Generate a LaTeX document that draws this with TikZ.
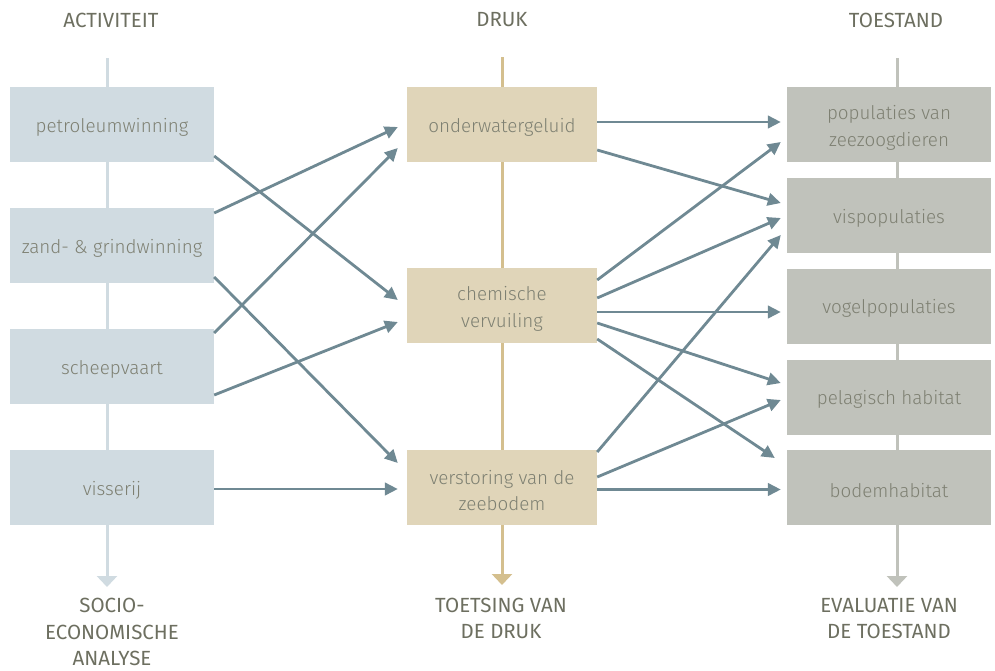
\documentclass[tikz,border=0pt]{standalone}
\usepackage{fontspec}
\setmainfont{Fira Sans Light}
\newfontfamily\headfont{Fira Sans}
\usetikzlibrary{arrows.meta}
\definecolor{actfill}{HTML}{D0DBE1}
\definecolor{drukfill}{HTML}{E0D5B9}
\definecolor{toefill}{HTML}{C0C2BB}
\definecolor{drukline}{HTML}{D4BF8E}
\definecolor{boxtext}{HTML}{7E8072}
\definecolor{headtext}{HTML}{6D6F60}
\definecolor{pijl}{HTML}{6F8993}

\begin{document}
\begin{tikzpicture}[x=1pt,y=-1pt,
    act_node/.style={fill=actfill,minimum width=204pt,minimum height=75pt,inner sep=0pt,align=center,text=boxtext,
        font=\fontsize{18.8}{26.5}\selectfont,text height=19.5pt},
    druk_node/.style={act_node,fill=drukfill,minimum width=190pt},
    toe_node/.style={act_node,fill=toefill,minimum width=204pt},
    two_lines/.style={text height=47pt},
    head_node/.style={text=headtext,align=center,font=\headfont\fontsize{20.5}{26.5}\selectfont},
    axis_line/.style={line width=3pt,-{Triangle[width=20pt,length=11pt]}}]

    \useasboundingbox (0,0) rectangle (995,670);

    \coordinate (atop) at (107,58);
    \coordinate (abot) at (107,587);
    \coordinate (dtop) at (502,57);
    \coordinate (dbot) at (502,585);
    \coordinate (ttop) at (897,58);
    \coordinate (tbot) at (897,587);
    \draw[axis_line,actfill] (atop) -- (abot);
    \draw[axis_line,drukline] (dtop) -- (dbot);
    \draw[axis_line,toefill] (ttop) -- (tbot);

    \node[head_node] (h1) at (111,20) {ACTIVITEIT};
    \node[head_node] (h2) at (502,20) {DRUK};
    \node[head_node] (h3) at (896,20) {TOESTAND};

    \node[act_node] (a1) at (112,124.5) {petroleumwinning};
    \node[act_node] (a2) at (112,245.5) {zand- \& grindwinning};
    \node[act_node] (a3) at (112,366.5) {scheepvaart};
    \node[act_node] (a4) at (112,487.5) {visserij};

    \node[druk_node] (d1) at (502,124.5) {onderwatergeluid};
    \node[druk_node,two_lines] (d2) at (502,305.5) {chemische\\vervuiling};
    \node[druk_node,two_lines] (d3) at (502,487.5) {verstoring van de\\zeebodem};

    \node[toe_node,two_lines] (t1) at (889,124.5) {populaties van\\zeezoogdieren};
    \node[toe_node] (t2) at (889,215.5) {vispopulaties};
    \node[toe_node] (t3) at (889,306) {vogelpopulaties};
    \node[toe_node] (t4) at (889,397) {pelagisch habitat};
    \node[toe_node] (t5) at (889,487.5) {bodemhabitat};

    \node[head_node] (b1) at (112,632) {SOCIO-\\ECONOMISCHE\\ANALYSE};
    \node[head_node] (b2) at (501,618.5) {TOETSING VAN\\DE DRUK};
    \node[head_node] (b3) at (889,618.5) {EVALUATIE VAN\\DE TOESTAND};

    \begin{scope}[every path/.style={draw=pijl,line width=2.8pt,-{Triangle[width=12.5pt,length=13pt]}}]
    \draw ([yshift=-31.5pt]a1.east) -- ([xshift=-9pt,yshift=5.5pt]d2.west);
    \draw ([yshift=32.5pt]a2.east) -- ([xshift=-9pt,yshift=-2.5pt]d1.west);
    \draw ([yshift=-31.5pt]a2.east) -- ([xshift=-9pt,yshift=24.5pt]d3.west);
    \draw ([yshift=33.5pt]a3.east) -- ([xshift=-9pt,yshift=-23.5pt]d1.west);
    \draw ([yshift=-28.5pt]a3.east) -- ([xshift=-9pt,yshift=-16.5pt]d2.west);
    \draw ([yshift=-1.5pt]a4.east) -- ([xshift=-9pt,yshift=-1.5pt]d3.west);
    \end{scope}

    \begin{scope}[every path/.style={draw=pijl,line width=2.8pt,-{Triangle[width=12.5pt,length=13pt]}}]
    \draw ([yshift=2.5pt]d1.east) -- ([xshift=-6pt,yshift=2.5pt]t1.west);
    \draw ([yshift=-25.5pt]d1.east) -- ([xshift=-6pt,yshift=12.5pt]t2.west);
    \draw ([yshift=25.5pt]d2.east) -- ([xshift=-6pt,yshift=-17.5pt]t1.west);
    \draw ([yshift=7.5pt]d2.east) -- ([xshift=-6pt,yshift=-2.5pt]t2.west);
    \draw ([yshift=-6.5pt]d2.east) -- ([xshift=-6pt,yshift=-6pt]t3.west);
    \draw ([yshift=-17.5pt]d2.east) -- ([xshift=-6pt,yshift=14pt]t4.west);
    \draw ([yshift=-33.5pt]d2.east) -- ([xshift=-12pt,yshift=29.5pt]t5.west);
    \draw ([yshift=35.5pt]d3.east) -- ([xshift=-6pt,yshift=-19.5pt]t2.west);
    \draw ([yshift=10.5pt]d3.east) -- ([xshift=-6pt,yshift=-3pt]t4.west);
    \draw ([yshift=-2pt]d3.east) -- ([xshift=-6pt,yshift=-2pt]t5.west);
    \end{scope}
\end{tikzpicture}
\end{document}
